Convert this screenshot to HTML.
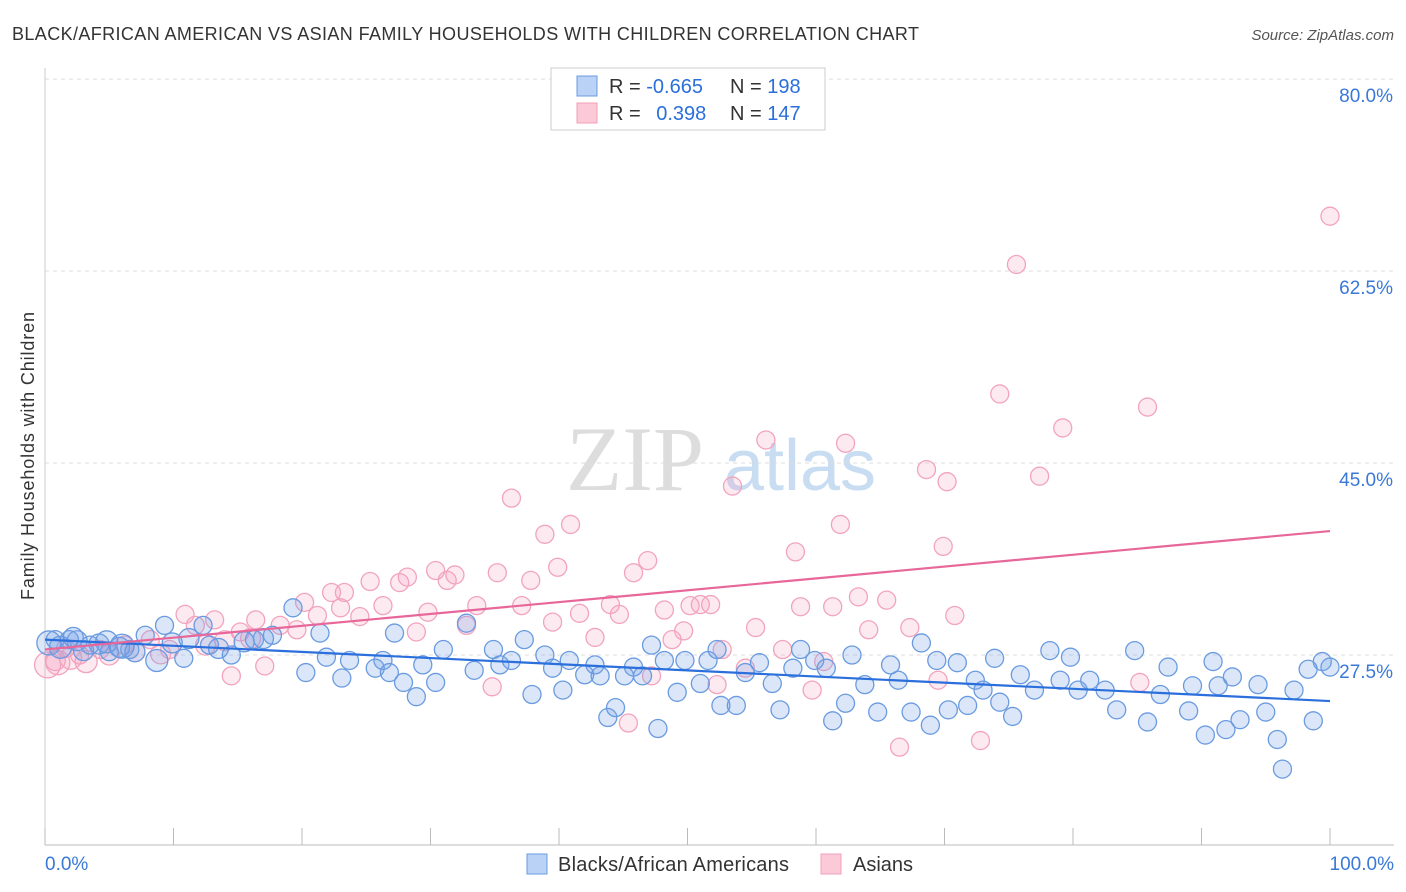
<!DOCTYPE html>
<html><head><meta charset="utf-8">
<style>
body{margin:0;background:#fff;font-family:"Liberation Sans",sans-serif;}
#wrap{position:relative;width:1406px;height:892px;overflow:hidden;}
</style></head>
<body>
<div id="wrap">
<svg id="chart" width="1406" height="892" xmlns="http://www.w3.org/2000/svg">
<text x="12" y="40" font-size="18" fill="#333" textLength="907">BLACK/AFRICAN AMERICAN VS ASIAN FAMILY HOUSEHOLDS WITH CHILDREN CORRELATION CHART</text>
<text x="1394" y="40" font-size="15" fill="#555" font-style="italic" text-anchor="end">Source: ZipAtlas.com</text>
<text transform="translate(34,456) rotate(-90)" font-size="18" fill="#333" text-anchor="middle" textLength="288">Family Households with Children</text>
<g>
<text x="635" y="490" font-size="92" fill="#ddd" font-family="Liberation Serif,serif" text-anchor="middle">ZIP</text>
<text x="800" y="490" font-size="72" fill="#c8dcf2" text-anchor="middle">atlas</text>
</g>
<g id="grid"></g><g id="axes"></g><g id="pts"></g><g id="trend"></g>
<g>
<rect x="551" y="68" width="274" height="62" fill="#fff" stroke="#ccc"/>
<rect x="577" y="76" width="20" height="20" fill="#b9d2f5" stroke="#6a9be0"/>
<rect x="577" y="103" width="20" height="20" fill="#fbc9d8" stroke="#f0a0b8"/>
<text x="609" y="93" font-size="20" fill="#333">R = <tspan fill="#2a6fdb">-0.665</tspan></text>
<text x="730" y="93" font-size="20" fill="#333">N = <tspan fill="#2a6fdb">198</tspan></text>
<text x="609" y="120" font-size="20" fill="#333">R = <tspan fill="#2a6fdb" dx="10">0.398</tspan></text>
<text x="730" y="120" font-size="20" fill="#333">N = <tspan fill="#2a6fdb">147</tspan></text>
</g>
<g>
<rect x="527" y="854" width="20" height="20" fill="#b9d2f5" stroke="#6a9be0"/>
<text x="558" y="871" font-size="20" fill="#333" textLength="231">Blacks/African Americans</text>
<rect x="821" y="854" width="20" height="20" fill="#fbc9d8" stroke="#f0a0b8"/>
<text x="853" y="871" font-size="20" fill="#333">Asians</text>
</g>
</svg>
</div>
<script>
const yTicks=[27.5,45,62.5,80];
const yTickLabels=["27.5%","45.0%","62.5%","80.0%"];
const xTickLabels=["0.0%","100.0%"];
const blueX=[0.8,1.9,3.5,5,6.6,7.8,8.7,9.3,10.8,12.3,12.8,14.5,16.3,17.7,19.3,20.3,21.4,21.9,23.1,23.7,25.7,26.3,26.8,27.2,27.9,28.9,29.4,30.4,31,32.8,33.4,34.9,35.4,36.3,37.3,37.9,38.9,39.5,40.3,40.8,42,42.8,43.2,43.8,44.4,45.1,45.8,46.5,47.2,47.7,48.2,49.2,49.8,51,51.6,52.3,52.6,53.8,54.5,55.6,56.6,57.2,58.2,58.8,59.9,60.8,61.3,62.3,62.8,63.8,64.8,65.8,66.4,67.4,68.2,68.9,69.4,70.3,71,71.8,72.4,73,73.9,74.3,75.3,75.9,77,78.2,79,79.8,80.4,81.3,82.5,83.4,84.8,85.8,86.8,87.4,89,89.3,90.3,90.9,91.3,91.9,92.4,93,94.4,95,95.9,96.3,97.2,98.3,98.7,99.4,100,0.3,1.2,2.5,3,4.2,5.8,7,9.9,11.2,13.5,15.5,17,6,4.8,2.2];
const blueY=[28.9,28.9,28.4,27.8,28,29.3,27,30.2,27.2,30.2,28.4,27.5,28.9,29.3,31.8,25.9,29.5,27.3,25.4,27,26.3,27,25.9,29.5,25,23.7,26.6,25,28,30.4,26.1,28,26.6,27,28.9,23.9,27.5,26.3,24.3,27,25.7,26.6,25.6,21.8,22.7,25.6,26.4,25.6,28.4,20.8,27,24.1,27,24.9,27,28,22.9,22.9,25.9,26.8,24.9,22.5,26.3,28,27,26.3,21.5,23.1,27.5,24.8,22.3,26.6,25.2,22.3,28.6,21.1,27,22.5,26.8,22.9,25.2,24.3,27.2,23.2,21.9,25.7,24.3,27.9,25.2,27.3,24.3,25.2,24.3,22.5,27.9,21.4,23.9,26.4,22.4,24.7,20.2,26.9,24.7,20.7,25.5,21.6,24.8,22.3,19.8,17.1,24.3,26.2,21.5,26.9,26.4,28.6,28.2,28.8,27.9,28.5,28.2,27.8,28.6,29,28.1,28.7,29,28.3,28.7,29.1];
const blueR=[9,9,9,9,9,9,11,9,9,9,9,9,9,9,9,9,9,9,9,9,9,9,9,9,9,9,9,9,9,9,9,9,9,9,9,9,9,9,9,9,9,9,9,9,9,9,9,9,9,9,9,9,9,9,9,9,9,9,9,9,9,9,9,9,9,9,9,9,9,9,9,9,9,9,9,9,9,9,9,9,9,9,9,9,9,9,9,9,9,9,9,9,9,9,9,9,9,9,9,9,9,9,9,9,9,9,9,9,9,9,9,9,9,9,9,12,11,10,10,10,10,10,10,10,10,10,10,12,11,10];
const pinkX=[0.8,1.6,2.7,4.3,6.2,8.2,9.7,10.9,11.7,13.2,14.5,15.2,16.4,17.1,18.3,19.6,20.2,21.2,22.3,23,23.3,24.5,25.3,26.3,27.6,28.2,28.9,29.8,30.4,31.3,31.9,32.8,33.6,34.8,35.2,36.3,37.1,37.8,38.9,39.5,39.9,40.9,41.6,42.8,44,44.7,45.4,45.8,46.9,47.2,48.2,48.8,49.7,50.2,51,51.8,52.3,52.7,53.5,54.5,55.3,56.1,57.4,58.4,58.8,59.7,60.6,61.3,61.9,62.3,63.3,64.1,65.5,66.5,67.3,68.6,69.5,69.9,70.2,70.8,72.8,74.3,75.6,77.4,79.2,85.8,85.2,100,0.2,1,2,3.2,5,7,9,12.5,14,16];
const pinkY=[27,28.1,27.5,28,28.4,28.9,28,31.2,30.2,30.7,25.6,29.6,30.7,26.5,30.2,29.8,32.3,31.1,33.2,31.8,33.2,31,34.2,32,34.1,34.6,29.6,31.4,35.2,34.3,34.8,30.2,32,24.6,35,41.8,32,34.3,38.5,30.5,35.5,39.4,31.3,29.1,32.1,31.2,21.3,35,36.1,25.6,31.6,28.9,29.7,32,32.1,32.1,24.8,28,42.9,26.3,30,47.1,28,36.9,31.9,24.3,26.9,31.9,39.4,46.8,32.8,29.8,32.5,19.1,30,44.4,25.2,37.4,43.3,31.1,19.7,51.3,63.1,43.8,48.2,50.1,25,67.5,26.6,26.8,27.2,26.9,27.5,27.8,27.6,28.4,28.8,29];
const pinkR=[10,9,9,9,9,9,9,9,9,9,9,9,9,9,9,9,9,9,9,9,9,9,9,9,9,9,9,9,9,9,9,9,9,9,9,9,9,9,9,9,9,9,9,9,9,9,9,9,9,9,9,9,9,9,9,9,9,9,9,9,9,9,9,9,9,9,9,9,9,9,9,9,9,9,9,9,9,9,9,9,9,9,9,9,9,9,9,9,13,12,11,11,10,10,10,10,10,10];
const blueTrend=[28.9,23.3];
const pinkTrend=[28.0,38.8];

const NS="http://www.w3.org/2000/svg";
function xs(v){return 45+v*12.85;}
function ys(v){return 655-(v-27.5)*10.97;}
function mk(tag,attrs,parent){const e=document.createElementNS(NS,tag);for(const k in attrs)e.setAttribute(k,attrs[k]);parent.appendChild(e);return e;}
const grid=document.getElementById('grid'),axes=document.getElementById('axes'),pts=document.getElementById('pts'),tr=document.getElementById('trend');
yTicks.forEach((t,i)=>{
  const l=mk('line',{x1:45,x2:1394,y1:ys(t),y2:ys(t),stroke:'#ddd','stroke-dasharray':'4,4'},grid);
  
  
  const tx=mk('text',{x:1393,y:ys(t)+23,'font-size':19,fill:'#3a78d8','text-anchor':'end'},grid);
  tx.textContent=yTickLabels[i];
  
  
});
const ax=mk('line',{x1:45,x2:1394,y1:845,y2:845,stroke:'#bbb'},axes);


const ay=mk('line',{x1:45,x2:45,y1:68,y2:845,stroke:'#ccc'},axes);


for(let i=0;i<=10;i++){
  const t=mk('line',{x1:xs(i*10),x2:xs(i*10),y1:828,y2:845,stroke:'#bbb'},axes);
  
  
}
const xl0=mk('text',{x:45,y:870,'font-size':19,fill:'#3a78d8'},axes);xl0.textContent=xTickLabels[0];


const xl1=mk('text',{x:1394,y:870,'font-size':19,fill:'#3a78d8','text-anchor':'end'},axes);xl1.textContent=xTickLabels[1];


pinkX.forEach((x,i)=>{
  const c=mk('circle',{cx:xs(x),cy:ys(pinkY[i]),r:pinkR[i]||9,fill:'rgba(245,160,190,0.22)',stroke:'#f2a3bd','stroke-width':1.3},pts);
  
  
});
blueX.forEach((x,i)=>{
  const c=mk('circle',{cx:xs(x),cy:ys(blueY[i]),r:blueR[i]||9,fill:'rgba(110,160,230,0.25)',stroke:'#6a9be0','stroke-width':1.3},pts);
  
  
});
const bl=mk('line',{x1:xs(0),y1:ys(blueTrend[0]),x2:xs(100),y2:ys(blueTrend[1]),stroke:'#2a6fdb','stroke-width':2.2},tr);


const pl=mk('line',{x1:xs(0),y1:ys(pinkTrend[0]),x2:xs(100),y2:ys(pinkTrend[1]),stroke:'#e8679a','stroke-width':2.2},tr);


</script>
</body></html>
